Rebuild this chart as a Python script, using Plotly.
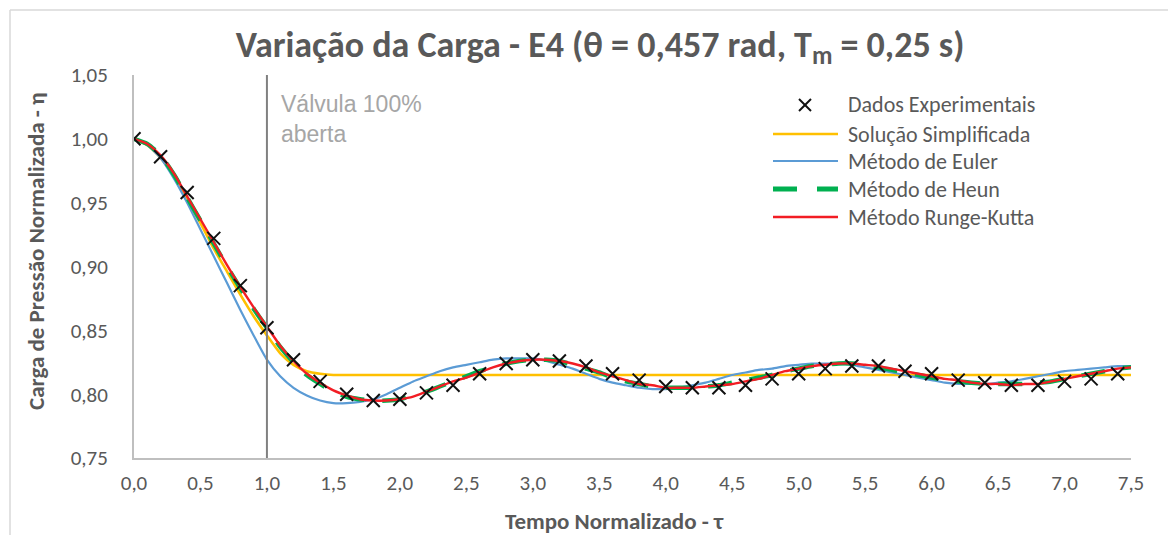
import plotly.graph_objects as go

# ---------------- data ----------------
tau_exp = [0.0, 0.2, 0.4, 0.6, 0.8, 1.0, 1.2, 1.4, 1.6, 1.8, 2.0, 2.2, 2.4, 2.6, 2.8,
           3.0, 3.2, 3.4, 3.6, 3.8, 4.0, 4.2, 4.4, 4.6, 4.8, 5.0, 5.2, 5.4, 5.6, 5.8,
           6.0, 6.2, 6.4, 6.6, 6.8, 7.0, 7.2, 7.4]
eta_exp = [1.000, 0.986, 0.958, 0.922, 0.885, 0.852, 0.827, 0.810, 0.800, 0.795,
           0.796, 0.801, 0.807, 0.816, 0.824, 0.827, 0.826, 0.822, 0.816, 0.811,
           0.806, 0.805, 0.805, 0.807, 0.812, 0.816, 0.820, 0.822, 0.822, 0.818,
           0.816, 0.811, 0.809, 0.807, 0.807, 0.810, 0.812, 0.816]

tau_simpl = [0.0, 0.1, 0.2, 0.3, 0.4, 0.5, 0.6, 0.7, 0.8, 0.9, 1.0, 1.1, 1.2, 1.3,
             1.4, 1.5, 7.5]
eta_simpl = [1.000, 0.995, 0.985, 0.971, 0.952, 0.934, 0.914, 0.896, 0.878, 0.861,
             0.846, 0.832, 0.823, 0.818, 0.816, 0.815, 0.815]

tau_model = [0.0, 0.1, 0.2, 0.3, 0.4, 0.5, 0.6, 0.7, 0.8, 0.9,
             1.0, 1.1, 1.2, 1.3, 1.4, 1.5, 1.6, 1.7, 1.8, 1.9,
             2.0, 2.1, 2.2, 2.3, 2.4, 2.5, 2.6, 2.7, 2.8, 2.9,
             3.0, 3.1, 3.2, 3.3, 3.4, 3.5, 3.6, 3.7, 3.8, 3.9,
             4.0, 4.1, 4.2, 4.3, 4.4, 4.5, 4.6, 4.7, 4.8, 4.9,
             5.0, 5.1, 5.2, 5.3, 5.4, 5.5, 5.6, 5.7, 5.8, 5.9,
             6.0, 6.1, 6.2, 6.3, 6.4, 6.5, 6.6, 6.7, 6.8, 6.9,
             7.0, 7.1, 7.2, 7.3, 7.4, 7.5]
eta_euler = [1.000, 0.995, 0.985, 0.969, 0.950, 0.929, 0.908, 0.887, 0.866, 0.846,
             0.827, 0.814, 0.805, 0.799, 0.795, 0.793, 0.793, 0.794, 0.796, 0.800,
             0.805, 0.810, 0.814, 0.818, 0.821, 0.823, 0.825, 0.827, 0.828, 0.828,
             0.828, 0.826, 0.823, 0.820, 0.816, 0.812, 0.809, 0.807, 0.805, 0.804,
             0.804, 0.805, 0.807, 0.809, 0.812, 0.815, 0.817, 0.819, 0.820, 0.822,
             0.823, 0.824, 0.824, 0.824, 0.823, 0.821, 0.819, 0.817, 0.815, 0.813,
             0.811, 0.809, 0.808, 0.808, 0.808, 0.809, 0.810, 0.812, 0.814, 0.816,
             0.818, 0.819, 0.820, 0.821, 0.822, 0.822]
eta_heun = [1.000, 0.996, 0.987, 0.972, 0.954, 0.936, 0.918, 0.900, 0.883, 0.867,
            0.852, 0.837, 0.825, 0.815, 0.808, 0.802, 0.798, 0.796, 0.795, 0.795,
            0.796, 0.799, 0.802, 0.806, 0.810, 0.814, 0.818, 0.821, 0.824, 0.826,
            0.827, 0.827, 0.826, 0.823, 0.820, 0.817, 0.813, 0.810, 0.808, 0.806,
            0.805, 0.805, 0.805, 0.806, 0.807, 0.809, 0.811, 0.813, 0.815, 0.818,
            0.820, 0.822, 0.823, 0.824, 0.824, 0.823, 0.821, 0.819, 0.817, 0.815,
            0.813, 0.811, 0.810, 0.809, 0.808, 0.808, 0.808, 0.808, 0.809, 0.810,
            0.812, 0.814, 0.816, 0.818, 0.820, 0.821]
eta_rk = [1.000, 0.996, 0.987, 0.973, 0.955, 0.937, 0.919, 0.901, 0.884, 0.868,
          0.853, 0.838, 0.826, 0.816, 0.809, 0.803, 0.799, 0.796, 0.795, 0.795,
          0.796, 0.798, 0.802, 0.806, 0.810, 0.813, 0.817, 0.821, 0.824, 0.826,
          0.827, 0.827, 0.826, 0.824, 0.821, 0.817, 0.814, 0.811, 0.808, 0.807,
          0.805, 0.805, 0.805, 0.806, 0.807, 0.808, 0.810, 0.812, 0.815, 0.818,
          0.820, 0.822, 0.823, 0.824, 0.824, 0.823, 0.822, 0.820, 0.818, 0.816,
          0.814, 0.812, 0.811, 0.809, 0.808, 0.808, 0.807, 0.808, 0.808, 0.810,
          0.812, 0.814, 0.816, 0.818, 0.820, 0.821]

tau_valve_open = 1.0
x_ticks = [0.0, 0.5, 1.0, 1.5, 2.0, 2.5, 3.0, 3.5, 4.0, 4.5, 5.0, 5.5, 6.0, 6.5, 7.0, 7.5]
y_ticks = [0.75, 0.80, 0.85, 0.90, 0.95, 1.00, 1.05]

legend_names = ["Dados Experimentais", "Solução Simplificada", "Método de Euler",
                "Método de Heun", "Método Runge-Kutta"]

# ---------------- style ----------------
W, H = 1168, 535
ML, MR, MT, MB = 134, 37, 75, 77
PW, PH = W - ML - MR, H - MT - MB
FONT = "Carlito, Lato, sans-serif"
TXT = "#595959"
C_Y, C_B, C_G, C_R = "#FFC000", "#5B9BD5", "#00B050", "#F21D24"


def px(xp):
    return (xp - ML) / PW


def py(yp):
    return (H - MB - yp) / PH


fig = go.Figure()
fig.add_trace(go.Scatter(x=tau_simpl, y=eta_simpl, mode="lines", name=legend_names[1],
                         line=dict(color=C_Y, width=2.6, shape="spline", smoothing=0.6)))
fig.add_trace(go.Scatter(x=tau_model, y=eta_euler, mode="lines", name=legend_names[2],
                         line=dict(color=C_B, width=2.2, shape="spline", smoothing=0.6)))
fig.add_trace(go.Scatter(x=tau_model, y=eta_heun, mode="lines", name=legend_names[3],
                         line=dict(color=C_G, width=4.5, dash="24px,18px", shape="spline", smoothing=0.6)))
fig.add_trace(go.Scatter(x=tau_model, y=eta_rk, mode="lines", name=legend_names[4],
                         line=dict(color=C_R, width=2.4, shape="spline", smoothing=0.6)))
fig.add_trace(go.Scatter(x=tau_exp, y=eta_exp, mode="markers", name=legend_names[0],
                         marker=dict(symbol="x-thin", size=13, color="#111111",
                                     line=dict(color="#111111", width=2))))

shapes = []
# valve-open vertical line
shapes.append(dict(type="line", xref="x", yref="paper", x0=tau_valve_open, x1=tau_valve_open,
                   y0=0, y1=1, line=dict(color="#808080", width=2)))
# chart frame (top & left)
shapes.append(dict(type="line", xref="paper", yref="paper", x0=px(10), x1=px(1175),
                   y0=py(10), y1=py(10), line=dict(color="#D9D9D9", width=1.5)))
shapes.append(dict(type="line", xref="paper", yref="paper", x0=px(10), x1=px(10),
                   y0=py(10), y1=py(540), line=dict(color="#D9D9D9", width=1.5)))

annotations = []
# manual legend
rows = [105, 134, 161, 189, 217]
lx0, lx1, tx = 773, 838, 846
mx, ms = 805, 6
shapes.append(dict(type="line", xref="paper", yref="paper", x0=px(mx - ms), x1=px(mx + ms),
                   y0=py(rows[0] - ms), y1=py(rows[0] + ms), line=dict(color="#111111", width=2)))
shapes.append(dict(type="line", xref="paper", yref="paper", x0=px(mx - ms), x1=px(mx + ms),
                   y0=py(rows[0] + ms), y1=py(rows[0] - ms), line=dict(color="#111111", width=2)))
leg_styles = [None,
              dict(color=C_Y, width=2.6),
              dict(color=C_B, width=2.2),
              dict(color=C_G, width=5, dash="24px,20px"),
              dict(color=C_R, width=2.4)]
for i, (r, nm) in enumerate(zip(rows, legend_names)):
    if leg_styles[i] is not None:
        shapes.append(dict(type="line", xref="paper", yref="paper", x0=px(lx0), x1=px(lx1),
                           y0=py(r), y1=py(r), line=leg_styles[i]))
    annotations.append(dict(text=nm, xref="paper", yref="paper", x=px(tx), y=py(r),
                            xanchor="left", yanchor="middle", showarrow=False,
                            font=dict(family=FONT, size=22, color=TXT)))

# valve annotation
annotations.append(dict(text="Válvula 100%<br>aberta", xref="paper", yref="paper",
                        x=px(279), y=py(89), xanchor="left", yanchor="top", align="left",
                        showarrow=False,
                        font=dict(family="Liberation Sans, Arial, sans-serif", size=23, color="#A6A6A6")))
# axis titles
annotations.append(dict(text="<b>Carga de Pressão Normalizada - η</b>", xref="paper", yref="paper",
                        x=px(36), y=py(251), textangle=-90, xanchor="center", yanchor="middle",
                        showarrow=False, font=dict(family=FONT, size=23, color=TXT)))
annotations.append(dict(text="<b>Tempo Normalizado - τ</b>", xref="paper", yref="paper",
                        x=px(614), y=py(521), xanchor="center", yanchor="middle",
                        showarrow=False, font=dict(family=FONT, size=23, color=TXT)))

fig.update_layout(
    width=W, height=H,
    margin=dict(l=ML, r=MR, t=MT, b=MB),
    paper_bgcolor="white", plot_bgcolor="white",
    separators=",.",
    showlegend=False,
    title=dict(text="<b>Variação da Carga - E4 (θ = 0,457 rad, T<sub>m</sub> = 0,25 s)</b>",
               x=600 / W, xanchor="center", xref="container",
               y=1 - 44 / H, yanchor="middle",
               font=dict(family=FONT, size=36, color=TXT)),
    xaxis=dict(range=[0, 7.5], tickvals=x_ticks, tickformat=".1f", showgrid=False,
               zeroline=False, showline=True, linecolor="#BFBFBF", linewidth=2,
               ticks="", ticklabelstandoff=5,
               tickfont=dict(family=FONT, size=21, color=TXT)),
    yaxis=dict(range=[0.75, 1.05], tickvals=y_ticks, tickformat=".2f", showgrid=False,
               zeroline=False, showline=True, linecolor="#BFBFBF", linewidth=2,
               ticks="", ticklabelstandoff=20,
               tickfont=dict(family=FONT, size=21, color=TXT)),
    shapes=shapes,
    annotations=annotations,
)

fig.write_html("out.html")
